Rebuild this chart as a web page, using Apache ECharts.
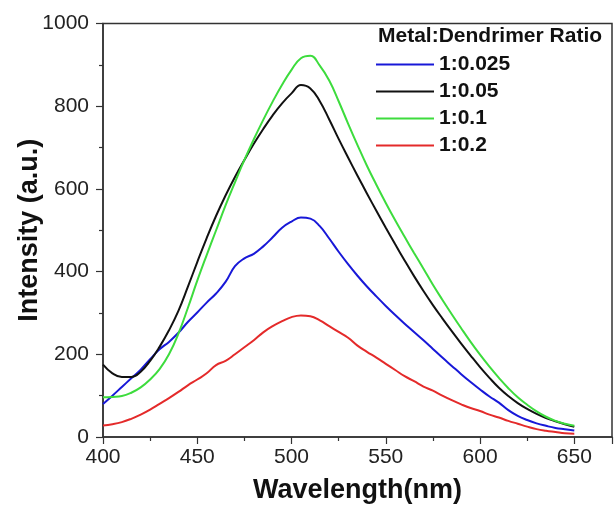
<!DOCTYPE html>
<html>
<head>
<meta charset="utf-8">
<script src="https://cdn.jsdelivr.net/npm/echarts@6/dist/echarts.min.js"></script>
<style>
  html, body { margin: 0; padding: 0; background: #fff; }
  #chart { width: 614px; height: 507px; }
</style>
</head>
<body>
<div id="chart"></div>
<script>
var wavelength = [400,405,410,415,420,425,430,435,440,445,450,455,460,465,470,475,480,485,490,495,500,505,510,515,520,525,530,535,540,545,550,555,560,565,570,575,580,585,590,595,600,605,610,615,620,625,630,635,640,645,650];

var seriesNames = ['1:0.025', '1:0.05', '1:0.1', '1:0.2'];

var ratio0025 = [80,100,121,142,163,188,212,230,252,278,301,325,347,375,413,432,443,461,483,506,521,531,528,510,480,448,418,390,364,340,317,295,274,254,234,213,192,172,152,133,115,98,83,65,51,41,33,27,22,19,16];

var ratio005 = [175,154,145,145,158,184,218,258,305,363,423,481,535,584,629,670,709,745,778,807,831,851,843,812,768,721,676,632,589,547,506,466,427,389,353,319,287,256,226,197,169,143,119,99,82,68,56,46,38,31,25];

var ratio01 = [96,97,99,107,120,139,164,200,250,312,378,440,500,560,616,670,720,767,811,852,888,916,922,898,862,812,758,706,656,610,566,524,484,445,407,368,332,297,263,230,199,170,143,118,96,78,62,49,39,32,27];

var ratio02 = [28,31,36,44,54,66,80,94,109,125,139,154,174,184,200,217,234,253,268,280,290,294,292,282,268,254,240,221,206,192,177,162,147,135,122,112,100,89,79,70,63,54,47,39,32,25,19,15,12,9,8];

var legendTitle = 'Metal:Dendrimer Ratio';
var xAxisName = 'Wavelength(nm)';
var yAxisName = 'Intensity (a.u.)';

function pairs(ys) {
  return wavelength.map(function (x, i) { return [x, ys[i]]; });
}

var colors = ['#1818d8', '#111111', '#3ddc3d', '#e42a2a'];
var values = [ratio0025, ratio005, ratio01, ratio02];
var font = 'Liberation Sans, Arial, sans-serif';

var chart = echarts.init(document.getElementById('chart'), null, { renderer: 'canvas' });
chart.setOption({
  animation: false,
  backgroundColor: '#fff',
  color: colors,
  title: {
    text: legendTitle,
    left: 378, top: 26, padding: 0,
    textStyle: { fontFamily: font, fontSize: 21, fontWeight: 'bold', color: '#111' }
  },
  legend: {
    data: seriesNames,
    orient: 'vertical',
    left: 376, top: 54, padding: 0,
    icon: 'rect',
    itemWidth: 58, itemHeight: 2,
    itemGap: 6,
    textStyle: { fontFamily: font, fontSize: 21, fontWeight: 'bold', color: '#111', lineHeight: 21 }
  },
  grid: {
    left: 103, right: 2, top: 23.5, bottom: 70,
    containLabel: false,
    outerBoundsMode: 'none',
    show: true, borderColor: '#333', borderWidth: 1.5, backgroundColor: 'transparent'
  },
  xAxis: {
    type: 'value', min: 400, max: 670, interval: 50,
    name: xAxisName, nameLocation: 'middle', nameGap: 40, nameMoveOverlap: false,
    nameTextStyle: { fontFamily: font, fontSize: 27, fontWeight: 'bold', color: '#111' },
    axisLine: { show: true, onZero: false, lineStyle: { color: '#333', width: 1.5 } },
    axisTick: { show: true, inside: false, length: 7, lineStyle: { color: '#333', width: 1.2 } },
    minorTick: { show: true, splitNumber: 2, length: 4, lineStyle: { color: '#333', width: 1.2 } },
    splitLine: { show: false },
    axisLabel: { fontFamily: font, fontSize: 21, color: '#222', margin: 10, showMaxLabel: false }
  },
  yAxis: {
    type: 'value', min: 0, max: 1000, interval: 200,
    name: yAxisName, nameLocation: 'middle', nameGap: 60, nameRotate: 90, nameMoveOverlap: false,
    nameTextStyle: { fontFamily: font, fontSize: 27, fontWeight: 'bold', color: '#111' },
    axisLine: { show: true, lineStyle: { color: '#333', width: 1.5 } },
    axisTick: { show: true, inside: false, length: 7, lineStyle: { color: '#333', width: 1.2 } },
    minorTick: { show: true, splitNumber: 2, length: 4, lineStyle: { color: '#333', width: 1.2 } },
    splitLine: { show: false },
    axisLabel: { fontFamily: font, fontSize: 21, color: '#222', margin: 14,
      formatter: function (v) { return String(v); } }
  },
  series: seriesNames.map(function (name, i) {
    return {
      name: name,
      type: 'line',
      data: pairs(values[i]),
      showSymbol: false,
      symbol: 'none',
      smooth: 0.45,
      lineStyle: { color: colors[i], width: 2 },
      itemStyle: { color: colors[i] }
    };
  })
});
</script>
</body>
</html>
